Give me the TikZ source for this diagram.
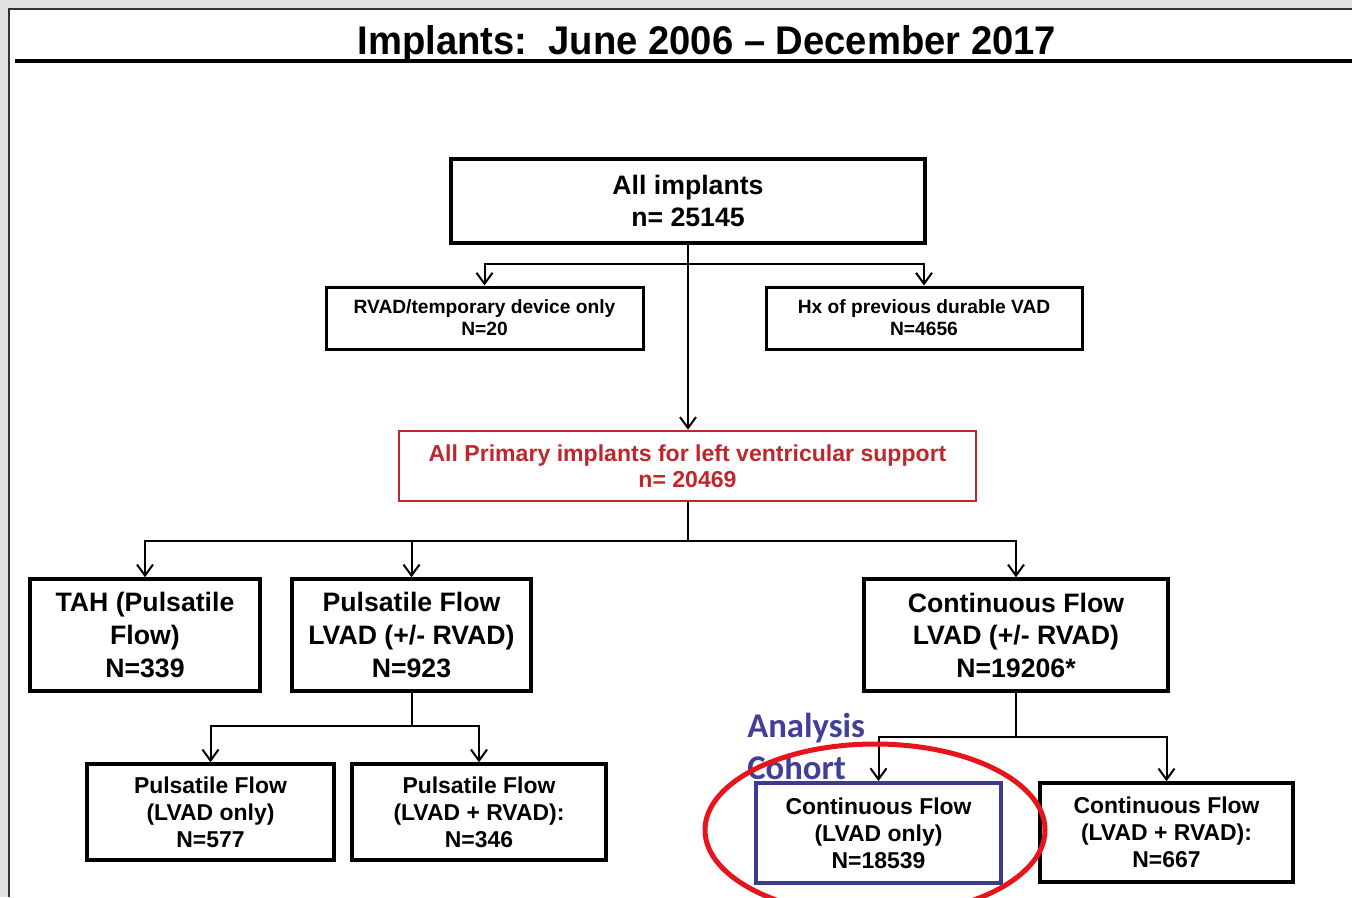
\documentclass[tikz,border=0pt]{standalone}
\usepackage{fontspec}
\setmainfont{Liberation Sans}
\newfontfamily\cohortfont{Carlito}
\usetikzlibrary{arrows.meta}
\definecolor{bgray}{RGB}{225,225,223}
\definecolor{frame}{RGB}{50,50,50}
\definecolor{darkred}{RGB}{192,39,45}
\definecolor{cblue}{RGB}{59,59,147}
\definecolor{ctext}{RGB}{64,64,154}
\definecolor{ellred}{RGB}{232,20,28}
\def\pxu{0.75pt}
\tikzset{
  box/.style={draw=black, line width=3.5*\pxu, inner sep=0pt, align=center, font=\bfseries},
  bigtxt/.style={font=\fontsize{20pt}{24.4pt}\selectfont\bfseries},
  smalltxt/.style={font=\fontsize{14.4pt}{16.5pt}\selectfont\bfseries},
  midtxt/.style={font=\fontsize{17.2pt}{20.2pt}\selectfont\bfseries},
  cohorttxt/.style={anchor=base west, text=ctext, inner sep=0pt, font=\cohortfont\fontsize{26pt}{31.5pt}\selectfont\bfseries},
  arr/.style={line width=2*\pxu, -{Straight Barb[length=11*\pxu, width=16*\pxu, line width=2*\pxu]}},
  ln/.style={line width=2*\pxu}
}
\begin{document}
\begin{tikzpicture}[x=0.75pt, y=-0.75pt]
\useasboundingbox (0,0) rectangle (1352,897);
\fill[bgray] (0,0) rectangle (1352,897);
\fill[white] (9,9) rectangle (1352,897);
\draw[frame, line width=2*\pxu] (9,897) -- (9,9) -- (1352,9);
% title
\node[anchor=base] (title) at (707,54) {\fontsize{30pt}{36pt}\selectfont\bfseries\scalebox{0.955}[1]{Implants:\ \ June 2006 -- December 2017}};
\draw[line width=3.5*\pxu] (15,61) -- (1352,61);
% boxes
\node[box, bigtxt, minimum width=474*\pxu, minimum height=84*\pxu] (allimp) at (688,201) {All implants\\n= 25145};
\node[box, smalltxt, line width=3*\pxu, minimum width=317*\pxu, minimum height=62*\pxu] (rvad) at (484.5,318) {RVAD/temporary device only\\N=20};
\node[box, smalltxt, line width=3*\pxu, minimum width=316*\pxu, minimum height=62*\pxu] (hx) at (924,318) {Hx of previous durable VAD\\N=4656};
\node[box, draw=darkred, text=darkred, line width=2.5*\pxu, font=\fontsize{17.3pt}{19.8pt}\selectfont\bfseries, minimum width=577*\pxu, minimum height=70*\pxu] (prim) at (687.5,466) {All Primary implants for left ventricular support\\n= 20469};
\node[box, bigtxt, minimum width=230*\pxu, minimum height=112*\pxu] (tah) at (145,635) {TAH (Pulsatile\\Flow)\\N=339};
\node[box, bigtxt, minimum width=239*\pxu, minimum height=112*\pxu] (pf) at (411.5,635) {Pulsatile Flow\\LVAD (+/- RVAD)\\N=923};
\node[box, bigtxt, minimum width=304*\pxu, minimum height=112*\pxu] (cf) at (1016,635) {Continuous Flow\\LVAD (+/- RVAD)\\N=19206*};
\node[box, midtxt, minimum width=247*\pxu, minimum height=96*\pxu] (pfl) at (210.5,812) {Pulsatile Flow\\(LVAD only)\\N=577};
\node[box, midtxt, minimum width=254*\pxu, minimum height=96*\pxu] (pfr) at (479,812) {Pulsatile Flow\\(LVAD + RVAD):\\N=346};
\node[box, midtxt, draw=cblue, line width=4*\pxu, minimum width=245*\pxu, minimum height=100*\pxu] (cfl) at (878.5,833) {Continuous Flow\\(LVAD only)\\N=18539};
\node[box, midtxt, minimum width=253*\pxu, minimum height=99*\pxu] (cfr) at (1166.5,832.5) {Continuous Flow\\(LVAD + RVAD):\\N=667};
% connectors
\coordinate (j1) at (688,264);
\coordinate (j2) at (688,541);
\coordinate (j3) at (411.5,726);
\coordinate (j4) at (1016,737);
\draw[arr] (allimp.south) -- (allimp.south |- prim.north);
\draw[arr] (j1) -| (rvad.north);
\draw[arr] (j1) -| (hx.north);
\draw[ln] (prim.south) -- (prim.south |- j2);
\draw[arr] (j2) -| (tah.north);
\draw[arr] (j2) -| (pf.north);
\draw[arr] (j2) -| (cf.north);
\draw[ln] (pf.south) -- (j3);
\draw[arr] (j3) -| (pfl.north);
\draw[arr] (j3) -| (pfr.north);
\draw[ln] (cf.south) -- (j4);
\draw[arr] (j4) -| (cfl.north);
\draw[arr] (j4) -| (cfr.north);
% analysis cohort
\node[cohorttxt] (cohortA) at (747,737) {Analysis};
\node[cohorttxt] (cohortB) at (747,779) {Cohort};
\begin{scope}
\clip (0,0) rectangle (1352,897);
\draw[ellred, line width=5*\pxu] (875,830) ellipse [x radius=170, y radius=86];
\end{scope}
\end{tikzpicture}
\end{document}
